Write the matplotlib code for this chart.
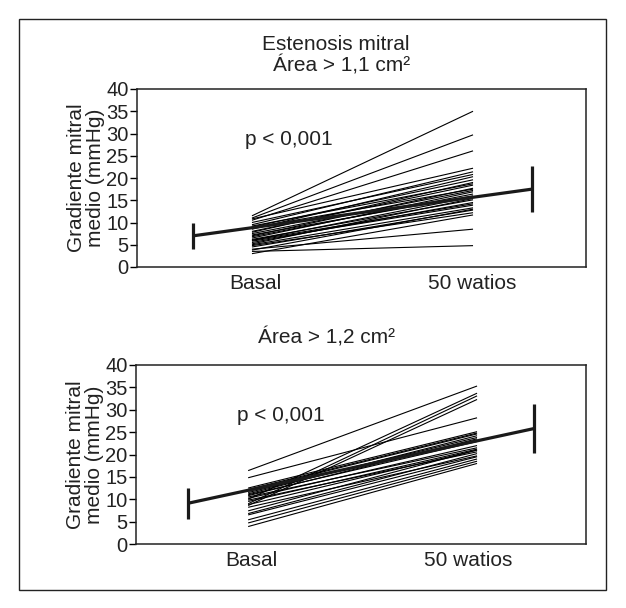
import matplotlib
matplotlib.use("Agg")
import matplotlib.pyplot as plt
from matplotlib.patches import Rectangle

plt.rcParams['font.family'] = ['Liberation Sans', 'DejaVu Sans']

# ---- data ----
categories = ["Basal", "50 watios"]

top_basal = [11.5, 11.0, 10.5, 10.8, 9.5, 10.0, 8.5, 9.0, 7.8, 8.0, 7.0, 7.5, 6.5, 6.8, 6.0,
             6.2, 5.5, 5.8, 5.0, 4.5, 4.0, 3.5, 9.2, 7.2, 6.0, 5.2, 4.8, 3.0, 8.8, 3.8]
top_watios = [35.0, 29.7, 26.1, 22.2, 21.4, 20.8, 20.3, 19.6, 19.0, 18.4, 17.7, 17.2, 16.9, 16.4, 15.8,
              15.1, 14.5, 13.9, 13.3, 12.8, 8.5, 4.8, 18.7, 16.0, 14.2, 15.4, 12.2, 11.7, 17.5, 13.0]
top_mean = [7.0, 17.5]
top_sd = [3.0, 5.2]

bot_basal = [16.4, 14.8, 10.0, 9.0, 8.6, 12.5, 12.0, 11.5, 11.8, 11.0, 10.5, 12.2, 11.2, 10.8,
             10.2, 9.5, 9.8, 8.8, 8.2, 7.4, 6.8, 6.5, 5.4, 4.7, 3.9]
bot_watios = [35.3, 28.2, 33.7, 33.1, 32.3, 25.1, 24.6, 23.8, 23.2, 22.9, 21.5, 24.8, 24.2, 23.5,
              22.0, 21.2, 20.6, 21.0, 19.7, 21.0, 20.2, 19.5, 19.0, 18.5, 18.0]
bot_mean = [9.1, 25.8]
bot_sd = [3.5, 5.5]

W, H = 626, 608
fig = plt.figure(figsize=(W / 100, H / 100), dpi=100)

# outer frame
fig.patches.append(Rectangle((19 / W, 1 - 590 / H), (606 - 19) / W, (590 - 19) / H,
                             transform=fig.transFigure, fill=False, lw=1.0, ec='#222222'))

FS = 15

def px_axes(l, t, r, b):
    return [l / W, 1 - b / H, (r - l) / W, (b - t) / H]

def panel(rect, basal, watios, mean, sd, xlim, mx, tickx, ptxt):
    ax = fig.add_axes(rect)
    for b, w in zip(basal, watios):
        ax.plot([0, 1], [b, w], color='black', lw=0.8, solid_capstyle='butt')
    ax.plot(mx, mean, color='#1a1a1a', lw=2.3, solid_capstyle='butt')
    for x, m, s in zip(mx, mean, sd):
        ax.plot([x, x], [m - s, m + s], color='#1a1a1a', lw=2.3, solid_capstyle='butt')
    ax.set_xlim(*xlim)
    ax.set_ylim(0, 40)
    ax.set_yticks(range(0, 41, 5))
    ax.set_xticks(tickx)
    ax.set_xticklabels(categories, fontsize=FS, color='#222222')
    ax.tick_params(axis='x', length=0, pad=5)
    ax.tick_params(axis='y', length=5, width=1, labelsize=14.5, pad=1, labelcolor='#222222')
    for sp in ax.spines.values():
        sp.set_linewidth(1.1)
        sp.set_color('#222222')
    ax.set_ylabel("Gradiente mitral\nmedio (mmHg)", fontsize=FS, labelpad=1,
                  linespacing=1.0, color='#222222')
    ax.text(ptxt[0], ptxt[1], "p < 0,001", fontsize=FS, ha='left', va='center', color='#222222')
    return ax

panel(px_axes(137, 89, 586, 267), top_basal, top_watios, top_mean, top_sd,
      (-0.52, 1.511), [-0.267, 1.267], [0.014, 0.995], (-0.03, 28.6))
panel(px_axes(136, 365, 586, 544), bot_basal, bot_watios, bot_mean, bot_sd,
      (-0.49, 1.476), [-0.263, 1.249], [0.015, 0.963], (-0.05, 28.8))

fig.text(336 / W, 1 - 45 / H, "Estenosis mitral", fontsize=FS, ha='center', va='center', color='#222222')
fig.text(342 / W, 1 - 65 / H, "Área > 1,1 cm²", fontsize=FS, ha='center', va='center', color='#222222')
fig.text(327 / W, 1 - 337 / H, "Área > 1,2 cm²", fontsize=FS, ha='center', va='center', color='#222222')

fig.savefig("out.png", dpi=100)
